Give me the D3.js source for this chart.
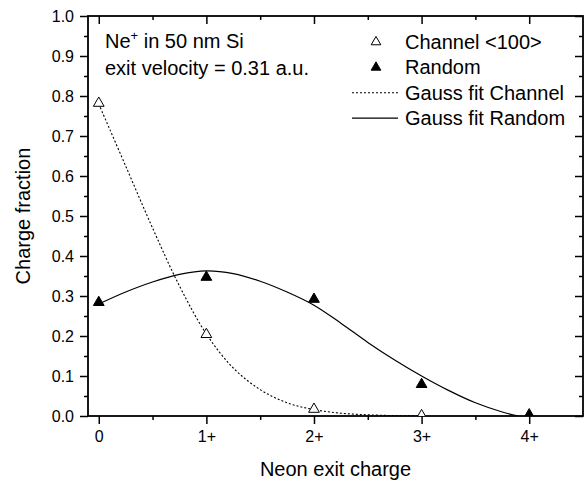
<!DOCTYPE html>
<html>
<head>
<meta charset="utf-8">
<script src="https://cdn.jsdelivr.net/npm/d3@7"></script>
<style>
  body { margin: 0; background: #fff; }
  svg { display: block; font-family: "Liberation Sans", Arial, sans-serif; }
</style>
</head>
<body>
<div id="chart"></div>
<script>
// measured charge fractions
var charges = [0, 1, 2, 3, 4];
var chargeLabels = ["0", "1+", "2+", "3+", "4+"];
var channel = [0.782, 0.204, 0.017, 0.001];
var random = [0.284, 0.347, 0.292, 0.079, 0.003];

// gauss fit curves
var fitX = [0, 0.25, 0.5, 0.75, 1, 1.25, 1.5, 1.75, 2, 2.25, 2.5, 2.75, 3, 3.25, 3.5, 3.75, 3.9];
var fitChannel = [0.78, 0.625, 0.47, 0.325, 0.205, 0.12, 0.066, 0.033, 0.016, 0.007, 0.003, 0.001, 0.0, 0, 0, 0, 0];
var fitRandom = [0.28, 0.31, 0.335, 0.354, 0.363, 0.356, 0.337, 0.31, 0.277, 0.232, 0.184, 0.14, 0.1, 0.064, 0.033, 0.01, 0.0];

var legendItems = ["Channel <100>", "Random", "Gauss fit Channel", "Gauss fit Random"];

var W = 586, H = 481;
var margin = { top: 16, left: 88, right: 3, bottom: 65 };

var svg = d3.select("#chart").append("svg")
    .attr("width", W)
    .attr("height", H);

var x = d3.scaleLinear().domain([-0.1, 4.5]).range([margin.left, W - margin.right]);
var y = d3.scaleLinear().domain([0, 1]).range([H - margin.bottom, margin.top]);

var x0 = x.range()[0], x1 = x.range()[1], y0 = y.range()[0], y1 = y.range()[1];

svg.append("clipPath").attr("id", "plot")
    .append("rect").attr("x", x0).attr("y", y1).attr("width", x1 - x0).attr("height", y0 - y1);

// ticks
var yMajor = d3.range(0, 1.001, 0.1);
var yMinor = d3.range(0.05, 1, 0.1);
var xMinor = [0.5, 1.5, 2.5, 3.5];

var axX = d3.axisBottom(x).tickValues(charges).tickFormat(function (d, i) { return chargeLabels[i]; }).tickSize(8).tickPadding(7);
var axY = d3.axisLeft(y).tickValues(yMajor).tickFormat(d3.format(".1f")).tickSize(8).tickPadding(6);

svg.append("g").attr("transform", "translate(0," + y0 + ")").call(axX);
svg.append("g").attr("transform", "translate(0," + y0 + ")")
    .call(d3.axisBottom(x).tickValues(xMinor).tickSize(4).tickFormat(""));
svg.append("g").attr("transform", "translate(" + x0 + ",0)").call(axY);
svg.append("g").attr("transform", "translate(" + x0 + ",0)")
    .call(d3.axisLeft(y).tickValues(yMinor).tickSize(4).tickFormat(""));

// top and right: inward ticks
svg.append("g").attr("transform", "translate(0," + y1 + ")")
    .call(d3.axisBottom(x).tickValues(charges).tickSize(8).tickFormat(""));
svg.append("g").attr("transform", "translate(0," + y1 + ")")
    .call(d3.axisBottom(x).tickValues(xMinor).tickSize(4).tickFormat(""));
svg.append("g").attr("transform", "translate(" + x1 + ",0)")
    .call(d3.axisLeft(y).tickValues(yMajor).tickSize(8).tickFormat(""));
svg.append("g").attr("transform", "translate(" + x1 + ",0)")
    .call(d3.axisLeft(y).tickValues(yMinor).tickSize(4).tickFormat(""));

svg.selectAll(".domain").remove();
svg.selectAll(".tick line").attr("stroke", "#000").attr("stroke-width", 1.5);
svg.selectAll(".tick text").attr("font-size", 16).attr("fill", "#000")
    .attr("font-family", "Liberation Sans, Arial, sans-serif");

svg.append("rect")
    .attr("x", x0).attr("y", y1)
    .attr("width", x1 - x0).attr("height", y0 - y1)
    .attr("fill", "none").attr("stroke", "#000").attr("stroke-width", 1.8);

// axis titles
svg.append("text")
    .attr("x", (x0 + x1) / 2).attr("y", 476)
    .attr("text-anchor", "middle").attr("font-size", 20)
    .text("Neon exit charge");
svg.append("text")
    .attr("transform", "translate(30," + ((y0 + y1) / 2) + ") rotate(-90)")
    .attr("text-anchor", "middle").attr("font-size", 20)
    .text("Charge fraction");

// fits
var plot = svg.append("g").attr("clip-path", "url(#plot)");

var line = d3.line().curve(d3.curveCatmullRom);
plot.append("path")
    .datum(fitX.map(function (v, i) { return [x(v), y(fitChannel[i])]; }).filter(function (d, i) { return fitX[i] <= 3; }))
    .attr("d", line)
    .attr("fill", "none").attr("stroke", "#000").attr("stroke-width", 1.1)
    .attr("stroke-dasharray", "2,2");
plot.append("path")
    .datum(fitX.map(function (v, i) { return [x(v), y(fitRandom[i])]; }))
    .attr("d", line)
    .attr("fill", "none").attr("stroke", "#000").attr("stroke-width", 1.2);

// markers
var tri = d3.symbol().type(d3.symbolTriangle).size(50);
plot.selectAll(".ch").data(channel).enter().append("path")
    .attr("class", "ch")
    .attr("transform", function (d, i) { return "translate(" + x(charges[i]) + "," + y(d) + ")"; })
    .attr("d", tri)
    .attr("fill", "#fff").attr("stroke", "#000").attr("stroke-width", 1);
plot.selectAll(".rd").data(random).enter().append("path")
    .attr("class", "rd")
    .attr("transform", function (d, i) { return "translate(" + x(charges[i]) + "," + y(d) + ")"; })
    .attr("d", tri)
    .attr("fill", "#000").attr("stroke", "#000").attr("stroke-width", 1);

// annotation
var note = svg.append("text").attr("x", 105).attr("y", 48).attr("font-size", 20);
note.append("tspan").text("Ne");
note.append("tspan").attr("dy", -8).attr("font-size", 13).text("+");
note.append("tspan").attr("dy", 8).text(" in 50 nm Si");
svg.append("text").attr("x", 105).attr("y", 75).attr("font-size", 20)
    .text("exit velocity = 0.31 a.u.");

// legend
var leg = svg.append("g");
legendItems.forEach(function (name, i) {
    var by = 49 + i * 25.4;
    leg.append("text").attr("x", 405).attr("y", by).attr("font-size", 20).text(name);
    var cy = by - 7;
    if (i < 2) {
        leg.append("path")
            .attr("transform", "translate(376," + cy + ")")
            .attr("d", d3.symbol().type(d3.symbolTriangle).size(40))
            .attr("fill", i === 0 ? "#fff" : "#000").attr("stroke", "#000").attr("stroke-width", 1);
    } else {
        leg.append("line")
            .attr("x1", 352).attr("x2", 398).attr("y1", cy).attr("y2", cy)
            .attr("stroke", "#000").attr("stroke-width", i === 2 ? 1.1 : 1.2)
            .attr("stroke-dasharray", i === 2 ? "2,2" : null);
    }
});
</script>
</body>
</html>
